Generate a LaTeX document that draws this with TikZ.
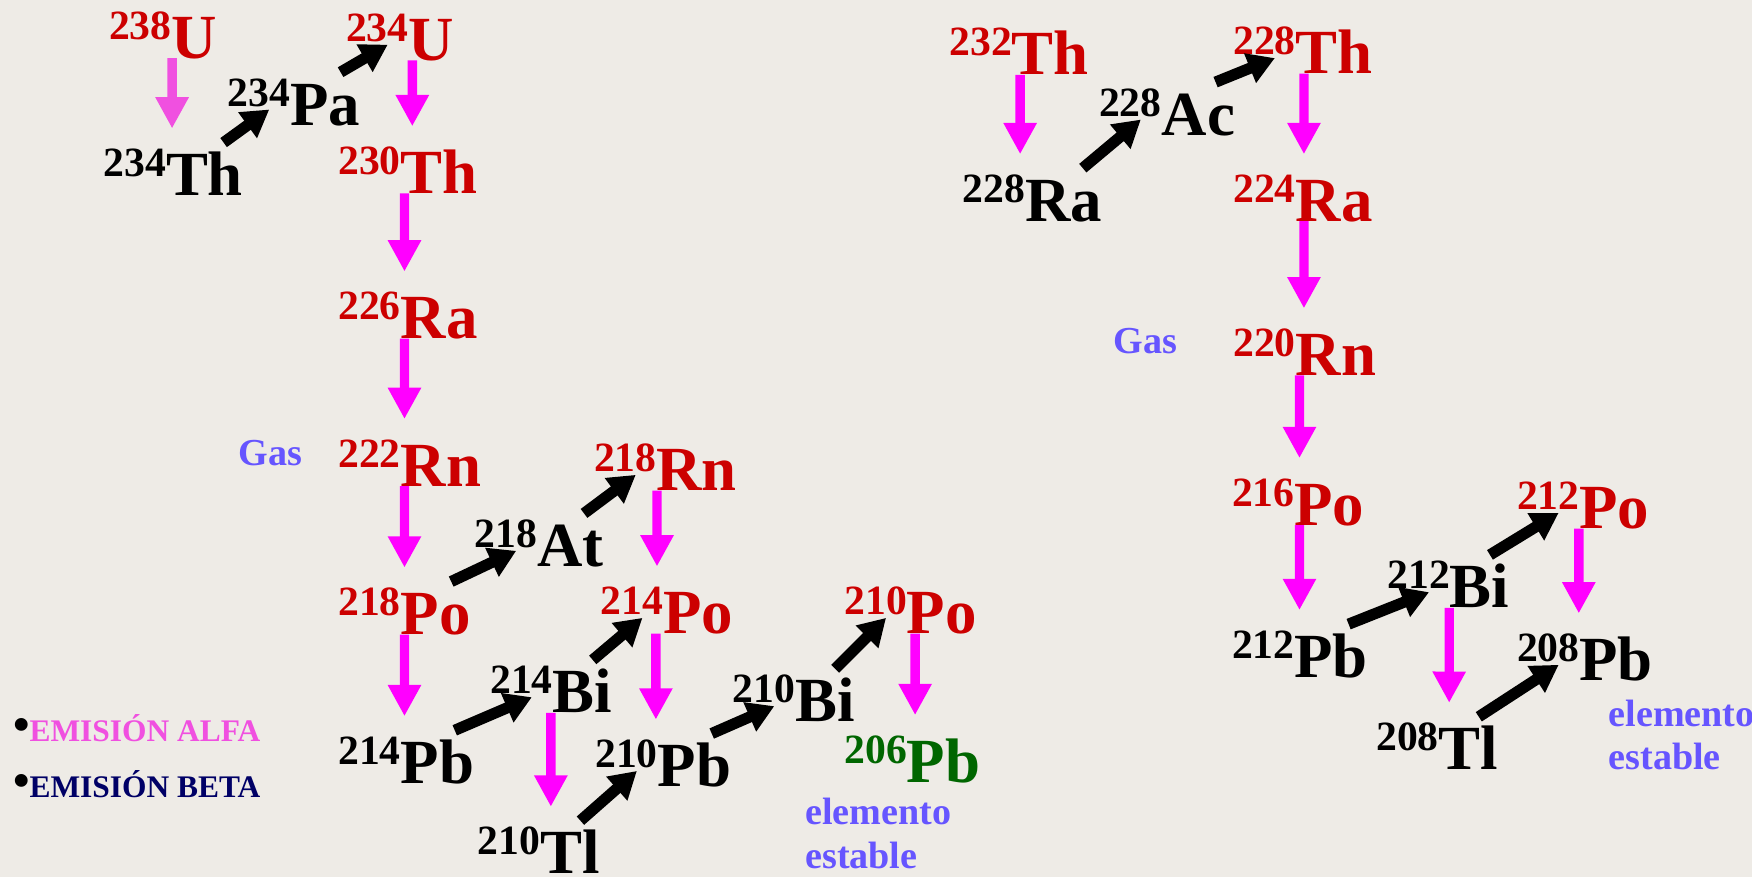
\documentclass[tikz,border=0pt]{standalone}
\usepackage{fontspec}
\setmainfont{Liberation Serif}
\usepackage{xcolor}
\usepackage{tikz}
\usetikzlibrary{arrows.meta}

\definecolor{paper}{RGB}{238,235,230}
\definecolor{decayred}{RGB}{204,0,0}
\definecolor{alfamag}{RGB}{255,0,255}
\definecolor{alfapink}{RGB}{240,80,224}
\definecolor{stablegreen}{RGB}{0,102,0}
\definecolor{gasblue}{RGB}{102,85,255}
\definecolor{betanavy}{RGB}{0,0,102}

\newcommand{\nuc}[2]{{\fontsize{10.6}{12}\selectfont\raisebox{0.17cm}{#1}}#2}

\begin{document}
\begin{tikzpicture}[x=0.01cm, y=-0.01cm,
    nuclide/.style={inner sep=0pt, anchor=base west, font=\fontsize{16}{18}\selectfont\bfseries},
    parent/.style={nuclide, text=decayred},
    daughter/.style={nuclide, text=black},
    alfa/.style={draw=alfamag, line width=0.084cm, -{Triangle[width=0.28cm,length=0.28cm]}},
    beta/.style={draw=black, line width=0.1cm, -{Triangle[width=0.27cm,length=0.24cm]}},
    note/.style={inner sep=0pt, anchor=base west, text=gasblue, align=left,
        font=\fontsize{9.7}{11.1}\selectfont\bfseries},
    legend/.style={inner sep=0pt, anchor=base west, font=\fontsize{8}{9}\selectfont\bfseries}]

        % Background
        \fill[paper] (0,0) rectangle (1568,785);
        \useasboundingbox (0,0) rectangle (1568,785);

        % Uranium series
        \node[parent]   (u238)  at (97,52)   {\nuc{238}{U}};
        \node[daughter] (th234) at (92,175)  {\nuc{234}{Th}};
        \node[daughter] (pa234) at (203,112) {\nuc{234}{Pa}};
        \node[parent]   (u234)  at (309,54)  {\nuc{234}{U}};
        \node[parent]   (th230) at (302,173) {\nuc{230}{Th}};
        \node[parent]   (ra226) at (302,303) {\nuc{226}{Ra}};
        \node[parent]   (rn222) at (302,435) {\nuc{222}{Rn}};
        \node[parent]   (po218) at (302,568) {\nuc{218}{Po}};
        \node[daughter] (at218) at (424,507) {\nuc{218}{At}};
        \node[parent]   (rn218) at (531,439) {\nuc{218}{Rn}};
        \node[daughter] (pb214) at (302,701) {\nuc{214}{Pb}};
        \node[daughter] (bi214) at (438,638) {\nuc{214}{Bi}};
        \node[parent]   (po214) at (537,567) {\nuc{214}{Po}};
        \node[daughter] (tl210) at (427,782) {\nuc{210}{Tl}};
        \node[daughter] (pb210) at (532,704) {\nuc{210}{Pb}};
        \node[daughter] (bi210) at (655,646) {\nuc{210}{Bi}};
        \node[parent]   (po210) at (755,567) {\nuc{210}{Po}};
        \node[nuclide, text=stablegreen] (pb206) at (755,700) {\nuc{206}{Pb}};

        % Thorium series
        \node[parent]   (th232) at (849,67)   {\nuc{232}{Th}};
        \node[daughter] (ra228) at (861,198)  {\nuc{228}{Ra}};
        \node[daughter] (ac228) at (983,121)  {\nuc{228}{Ac}};
        \node[parent]   (th228) at (1103,66)  {\nuc{228}{Th}};
        \node[parent]   (ra224) at (1103,198) {\nuc{224}{Ra}};
        \node[parent]   (rn220) at (1103,336) {\nuc{220}{Rn}};
        \node[parent]   (po216) at (1102,470) {\nuc{216}{Po}};
        \node[daughter] (pb212) at (1102,606) {\nuc{212}{Pb}};
        \node[daughter] (bi212) at (1241,544) {\nuc{212}{Bi}};
        \node[parent]   (po212) at (1357,473) {\nuc{212}{Po}};
        \node[daughter] (tl208) at (1231,689) {\nuc{208}{Tl}};
        \node[daughter] (pb208) at (1357,609) {\nuc{208}{Pb}};

        % Notes
        \node[note] (gasU)     at (213,417)  {Gas};
        \node[note] (gasTh)    at (996,316)  {Gas};
        \node[note] (stableU)  at (720,777)  {elemento\\estable};
        \node[note] (stableTh) at (1439,689) {elemento\\estable};

        % Legend
        \node[legend, text=alfapink] (legalfa) at (11,664)
            {{\color{black}\fontsize{12}{12}\selectfont\raisebox{0.01cm}{•}}EMISIÓN ALFA};
        \node[legend, text=betanavy] (legbeta) at (11,714)
            {{\color{black}\fontsize{12}{12}\selectfont\raisebox{0.01cm}{•}}EMISIÓN BETA};

        % Alpha decays
        \draw[alfa, draw=alfapink] ([xshift=0.57cm]u238.base west) -- ([shift={(57,-60)}]u238.base west |- th234.base west);
        \draw[alfa] ([xshift=0.6cm]u234.base west)  -- ([shift={(60,-60)}]u234.base west |- th230.base west);
        \draw[alfa] ([xshift=0.6cm]th230.base west) -- ([shift={(60,-60)}]th230.base west |- ra226.base west);
        \draw[alfa] ([xshift=0.6cm]ra226.base west) -- ([shift={(60,-60)}]ra226.base west |- rn222.base west);
        \draw[alfa] ([xshift=0.6cm]rn222.base west) -- ([shift={(60,-60)}]rn222.base west |- po218.base west);
        \draw[alfa] ([xshift=0.6cm]po218.base west) -- ([shift={(60,-60)}]po218.base west |- pb214.base west);
        \draw[alfa] ([xshift=0.57cm]rn218.base west) -- ([shift={(57,-60)}]rn218.base west |- po214.base west);
        \draw[alfa] ([xshift=0.5cm]po214.base west) -- ([shift={(50,-60)}]po214.base west |- pb210.base west);
        \draw[alfa] ([xshift=0.55cm]bi214.base west) -- ([shift={(55,-60)}]bi214.base west |- tl210.base west);
        \draw[alfa] ([xshift=0.64cm]po210.base west) -- ([shift={(64,-60)}]po210.base west |- pb206.base west);
        \draw[alfa] ([xshift=0.64cm]th232.base west) -- ([shift={(64,-60)}]th232.base west |- ra228.base west);
        \draw[alfa] ([xshift=0.64cm]th228.base west) -- ([shift={(64,-60)}]th228.base west |- ra224.base west);
        \draw[alfa] ([xshift=0.64cm]ra224.base west) -- ([shift={(64,-60)}]ra224.base west |- rn220.base west);
        \draw[alfa] ([xshift=0.6cm]rn220.base west) -- ([shift={(60,-60)}]rn220.base west |- po216.base west);
        \draw[alfa] ([xshift=0.61cm]po216.base west) -- ([shift={(61,-60)}]po216.base west |- pb212.base west);
        \draw[alfa] ([xshift=0.56cm]po212.base west) -- ([shift={(56,-60)}]po212.base west |- pb208.base west);
        \draw[alfa] ([xshift=0.56cm]bi212.base west) -- ([shift={(56,-60)}]bi212.base west |- tl208.base west);

        % Beta decays
        \draw[beta] ([shift={(-18,-5)}]th234.north east) -- ([shift={(38,-14)}]pa234.base west);
        \draw[beta] ([shift={(-18,-5)}]pa234.north east) -- ([shift={(38,-14)}]u234.base west);
        \draw[beta] ([shift={(-18,-5)}]po218.north east) -- ([shift={(38,-14)}]at218.base west);
        \draw[beta] ([shift={(-18,-5)}]at218.north east) -- ([shift={(38,-14)}]rn218.base west);
        \draw[beta] ([shift={(-18,-5)}]pb214.north east) -- ([shift={(38,-14)}]bi214.base west);
        \draw[beta] ([shift={(-18,-5)}]bi214.north east) -- ([shift={(38,-14)}]po214.base west);
        \draw[beta] ([shift={(-18,-5)}]tl210.north east) -- ([shift={(38,-14)}]pb210.base west);
        \draw[beta] ([shift={(-18,-5)}]pb210.north east) -- ([shift={(38,-14)}]bi210.base west);
        \draw[beta] ([shift={(-18,-5)}]bi210.north east) -- ([shift={(38,-14)}]po210.base west);
        \draw[beta] ([shift={(-18,-5)}]ra228.north east) -- ([shift={(38,-14)}]ac228.base west);
        \draw[beta] ([shift={(-18,-5)}]ac228.north east) -- ([shift={(38,-14)}]th228.base west);
        \draw[beta] ([shift={(-18,-5)}]pb212.north east) -- ([shift={(38,-14)}]bi212.base west);
        \draw[beta] ([shift={(-18,-5)}]bi212.north east) -- ([shift={(38,-14)}]po212.base west);
        \draw[beta] ([shift={(-18,-5)}]tl208.north east) -- ([shift={(38,-14)}]pb208.base west);
\end{tikzpicture}
\end{document}
